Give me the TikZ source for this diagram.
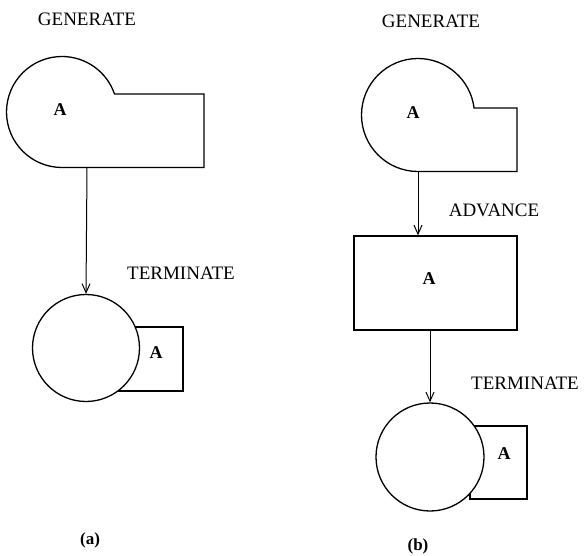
\documentclass[tikz,border=0pt]{standalone}
\usepackage{fontspec}
\setmainfont{Liberation Serif}
\usetikzlibrary{arrows.meta}
\begin{document}
\begin{tikzpicture}[x=1pt,y=1pt,
  shp/.style={line width=1.3pt},
  lbl/.style={font=\fontsize{19}{19}\selectfont, inner sep=0pt},
  let/.style={font=\fontsize{18}{18}\selectfont\bfseries, inner sep=0pt},
  caplbl/.style={font=\fontsize{17}{17}\selectfont\bfseries, inner sep=0pt},
  arr/.style={line width=1pt, -{Straight Barb[length=9pt,width=8pt,line width=1pt]}},
  circ/.style={circle, draw, line width=1.3pt, fill=white, inner sep=0pt}]
\useasboundingbox (0,0) rectangle (586,555);

% ---------- (a) ----------
\node[lbl] (gena) at (87,536) {GENERATE};
\draw[shp] (62,387.5) arc[start angle=270, end angle=18.9, radius=55.5]
  -- (204,461) -- (204,387.5) -- cycle;
\node[let] (ga) at (60,445) {A};
\coordinate (gab) at (87,387.5);

\draw[shp] (110,228) rectangle (183,164);
\node[circ, minimum size=107pt] (ta) at (86,207) {};
\node[let] (taa) at (156,202) {A};
\node[lbl] (terma) at (181,282) {TERMINATE};
\draw[arr] (gab) -- (ta.north);
\node[caplbl] (capa) at (90,15) {(a)};

% ---------- (b) ----------
\node[lbl] (genb) at (431,534) {GENERATE};
\draw[shp] (418,383.5) arc[start angle=270, end angle=7.1, radius=56.5]
  -- (517,447) -- (517,383.5) -- cycle;
\node[let] (gb) at (413,442) {A};
\coordinate (gbb) at (418,383.5);

\node[draw, line width=1.3pt, minimum width=163pt, minimum height=94pt, inner sep=0pt] (adv) at (435.5,272) {};
\node[let] (adva) at (429,276) {A};
\node[lbl] (advl) at (494,345) {ADVANCE};
\draw[arr] (gbb) -- (gbb |- adv.north);

\draw[shp] (470,129) rectangle (527,56);
\node[circ, minimum size=108pt] (tb) at (430,98) {};
\node[let] (tba) at (504,101) {A};
\node[lbl] (termb) at (525,172) {TERMINATE};
\draw[arr] (tb.north |- adv.south) -- (tb.north);
\node[caplbl] (capb) at (418,9) {(b)};
\end{tikzpicture}
\end{document}
